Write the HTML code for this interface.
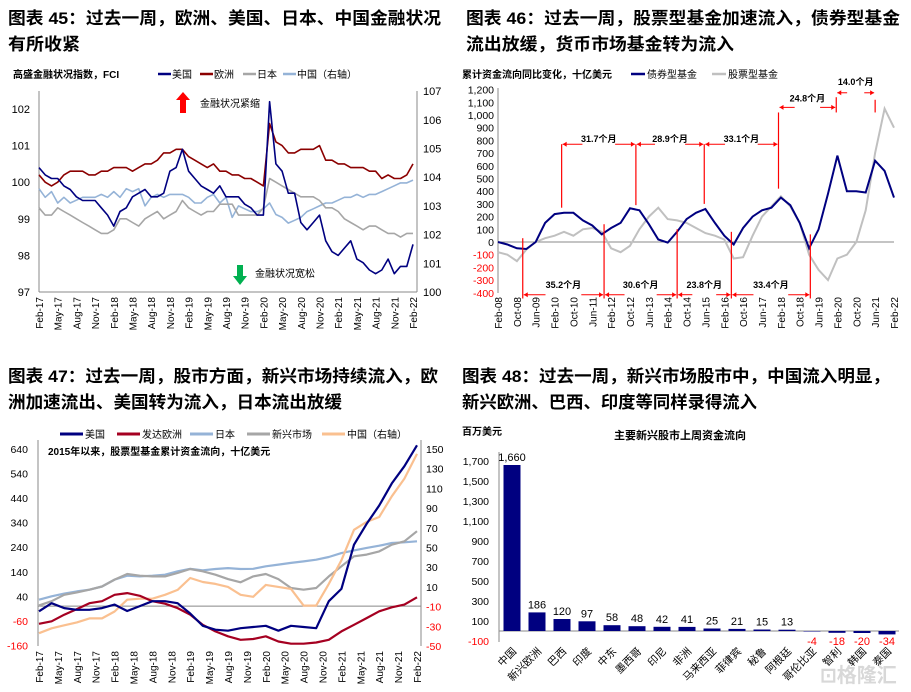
<!DOCTYPE html>
<html><head><meta charset="utf-8">
<style>
html,body{margin:0;padding:0;background:#fff;}
svg{display:block;font-family:"Liberation Sans","Noto Sans CJK SC",sans-serif;}
.t{font-weight:bold;font-size:17px;fill:#000;}
</style></head>
<body>
<svg id="chart" width="911" height="692" viewBox="0 0 911 692" xmlns="http://www.w3.org/2000/svg">
<text class="t" x="8" y="24" textLength="433" lengthAdjust="spacingAndGlyphs">图表 45：过去一周，欧洲、美国、日本、中国金融状况</text>
<text class="t" x="8" y="50" textLength="72" lengthAdjust="spacingAndGlyphs">有所收紧</text>
<text class="t" x="466" y="24" textLength="434" lengthAdjust="spacingAndGlyphs">图表 46：过去一周，股票型基金加速流入，债券型基金</text>
<text class="t" x="466" y="50" textLength="268" lengthAdjust="spacingAndGlyphs">流出放缓，货币市场基金转为流入</text>
<text class="t" x="8" y="382" textLength="430" lengthAdjust="spacingAndGlyphs">图表 47：过去一周，股市方面，新兴市场持续流入，欧</text>
<text class="t" x="8" y="408" textLength="334" lengthAdjust="spacingAndGlyphs">洲加速流出、美国转为流入，日本流出放缓</text>
<text class="t" x="462" y="382" textLength="428" lengthAdjust="spacingAndGlyphs">图表 48：过去一周，新兴市场股市中，中国流入明显，</text>
<text class="t" x="462" y="408" textLength="295" lengthAdjust="spacingAndGlyphs">新兴欧洲、巴西、印度等同样录得流入</text>
<text x="820" y="682" font-size="20" font-weight="bold" fill="#d8d8d8">⊡格隆汇</text>
</svg>
<script>
// ===== Chart 45 data (monthly Feb-17..Feb-22) =====
const c1Ticks = ["Feb-17","May-17","Aug-17","Nov-17","Feb-18","May-18","Aug-18","Nov-18","Feb-19","May-19","Aug-19","Nov-19","Feb-20","May-20","Aug-20","Nov-20","Feb-21","May-21","Aug-21","Nov-21","Feb-22"];
const c1LeftTicks = [97,98,99,100,101,102];
const c1RightTicks = [100,101,102,103,104,105,106,107];
const c1US = [100.4,100.2,100.1,100.1,99.9,99.8,99.6,99.5,99.5,99.5,99.3, 99.1,98.8,99.2,99.3,99.6,99.7,99.8,99.6,99.6,99.7,100.3,100.4, 100.9,100.3,100.1,99.9,99.8,99.7,99.9,99.6,99.6,99.6,99.4,99.3, 99.1,99.1,102.2,100.5,100.3,99.7,99.7,98.9,98.7,98.9,99.1,98.4, 98.1,98.0,98.2,98.4,97.9,97.8,97.6,97.5,97.6,97.9,97.5,97.7, 97.7,98.3];
const c1EU = [100.2,100.0,99.9,100.0,100.2,100.3,100.3,100.3,100.2,100.2,100.3, 100.3,100.4,100.4,100.4,100.3,100.4,100.5,100.5,100.6,100.8,100.8,100.9, 100.9,100.7,100.6,100.5,100.4,100.5,100.3,100.3,100.2,100.2,100.1,100.1, 100.0,99.9,101.6,101.1,101.0,100.8,100.8,100.9,100.9,100.9,101.0,100.6, 100.6,100.5,100.5,100.4,100.4,100.4,100.3,100.3,100.1,100.2,100.1,100.1, 100.2,100.5];
const c1JP = [99.3,99.1,99.1,99.3,99.2,99.1,99.0,98.9,98.8,98.7,98.6, 98.6,98.7,99.0,99.0,98.9,98.8,99.0,99.1,99.2,99.0,99.1,99.2, 99.5,99.3,99.2,99.1,99.2,99.2,99.4,99.4,99.4,99.1,99.1,99.1, 99.1,99.3,100.1,100.0,99.9,99.8,99.7,99.6,99.6,99.6,99.5,99.3, 99.3,99.2,99.0,98.9,98.8,98.7,98.8,98.8,98.7,98.6,98.6,98.5, 98.6,98.6];
const c1CN = [103.6,103.3,103.5,103.1,103.3,103.1,103.2,103.3,103.3,103.3,103.4, 103.3,103.5,103.3,103.6,103.5,103.6,103.0,103.3,103.4,103.3,103.4,103.4, 103.4,103.3,103.1,103.1,103.3,103.4,103.1,103.3,102.6,103.0,102.9,102.8, 102.8,102.9,103.1,102.7,102.6,102.4,102.5,102.6,102.8,102.9,103.0,103.1, 103.1,103.2,103.3,103.3,103.4,103.3,103.4,103.4,103.5,103.6,103.7,103.8, 103.8,103.9];

// ===== Chart 46 data (every 4 months, Feb-08..Feb-22) =====
const c2Ticks = ["Feb-08","Oct-08","Jun-09","Feb-10","Oct-10","Jun-11","Feb-12","Oct-12","Jun-13","Feb-14","Oct-14","Jun-15","Feb-16","Oct-16","Jun-17","Feb-18","Oct-18","Jun-19","Feb-20","Oct-20","Jun-21","Feb-22"];
const c2YTicks = [-400,-300,-200,-100,0,100,200,300,400,500,600,700,800,900,1000,1100,1200];
const c2Bond = [0,-20,-50,-55,0,150,220,230,230,170,130,60,110,150,265,250,140,20,-5,80,180,230,260,150,50,-20,110,200,250,270,350,290,150,-50,100,380,680,400,400,390,640,560,350];
const c2Equity = [-80,-100,-150,-60,0,30,50,80,50,100,110,80,-50,-80,-30,100,200,270,180,170,150,110,70,50,20,-130,-120,50,200,280,360,280,150,-100,-220,-300,-130,-100,0,250,700,1050,900];
const c2PeakMonths = [27,58.5,87.5,119];
const c2PeakVals = [270,290,300,420];
const c2TopLabels = ["31.7个月","28.9个月","33.1个月"];
const c2TroughMonths = [10.5,45,76,99,132.5];
const c2TroughVals = [30,140,100,80,60];
const c2BottomLabels = ["35.2个月","30.6个月","23.8个月","33.4个月"];
const c2LateMonths = [119,143.5,160];
const c2LateLabels = ["24.8个月","14.0个月"];

// ===== Chart 47 data (every 2 months, Feb-17..Feb-22) =====
const c3Ticks = c1Ticks;
const c3LeftTicks = [-160,-60,40,140,240,340,440,540,640];
const c3RightTicks = [-50,-30,-10,10,30,50,70,90,110,130,150];
const c3US = [-21,12,-8,-15,-15,-8,6,-20,0,20,20,12,-30,-80,-96,-100,-90,-85,-80,-100,-80,-85,-90,20,70,250,335,410,500,570,655];
const c3EU = [-72,-62,-35,-12,12,20,46,53,42,20,10,-8,-35,-76,-103,-123,-137,-134,-123,-144,-153,-153,-148,-137,-103,-76,-49,-21,-5,6,36];
const c3JP = [26,40,51,60,67,80,108,124,121,124,128,142,152,146,151,155,151,152,162,169,176,182,189,200,216,227,237,246,257,260,264];
const c3EM = [3,20,46,56,67,80,108,131,124,121,121,135,151,142,128,110,97,121,131,110,74,67,74,121,162,203,210,223,250,264,305];
const c3CN = [-37,-32,-29,-26,-22,-22,-15,-3,-2,-2,2,7,19,15,13,10,2,0,12,10,8,-9,-9,13,37,68,76,81,102,120,145];

// ===== Chart 48 data =====
const c4Cats = ["中国","新兴欧洲","巴西","印度","中东","墨西哥","印尼","非洲","马来西亚","菲律宾","秘鲁","阿根廷","哥伦比亚","智利","韩国","泰国"];
const c4Vals = [1660,186,120,97,58,48,42,41,25,21,15,13,-4,-18,-20,-34];
const c4YTicks = [-100,100,300,500,700,900,1100,1300,1500,1700];

const svg = document.getElementById('chart');
const NS = 'http://www.w3.org/2000/svg';
function mk(tag, attrs, txt){
  const e = document.createElementNS(NS, tag);
  for (const k in attrs) e.setAttribute(k, attrs[k]);
  if (txt !== undefined) e.textContent = txt;
  svg.appendChild(e);
  return e;
}
function fmt(v){ return v.toLocaleString('en-US'); }
function pathOf(vals, xf, yf){ return vals.map((v,i)=>(i?'L':'M')+xf(i).toFixed(1)+','+yf(v).toFixed(1)).join(''); }

// ---------- Chart 45 ----------
const x1 = i => 39 + i*(374/60);
const yL1 = v => 292 - (v-97)*36.6;
const yR1 = v => 292 - (v-100)*28.7;
let e;
e = mk('line',{x1:39,y1:91,x2:39,y2:292,stroke:'#888'});


e = mk('line',{x1:417,y1:91,x2:417,y2:292,stroke:'#888'});


e = mk('line',{x1:39,y1:292,x2:417,y2:292,stroke:'#888'});


c1LeftTicks.forEach(v=>{
  e = mk('text',{x:30,y:yL1(v)+4,'font-size':11,'text-anchor':'end'},String(v));
  
  
});
c1RightTicks.forEach(v=>{
  e = mk('text',{x:423,y:yR1(v)+4,'font-size':11},String(v));
  
  
});
c1Ticks.forEach((t,q)=>{
  const xx = x1(q*3);
  e = mk('text',{x:xx+4,y:297,'font-size':10,'text-anchor':'end',transform:`rotate(-90 ${xx+4} 297)`},t);
  
  
});
[[c1CN,'#95b3d7',yR1,'c45-line-china'],[c1JP,'#a6a6a6',yL1,'c45-line-japan'],[c1EU,'#8b0000',yL1,'c45-line-europe'],[c1US,'#000080',yL1,'c45-line-us']].forEach(s=>{
  e = mk('path',{d:pathOf(s[0],x1,s[2]),fill:'none',stroke:s[1],'stroke-width':1.6,'stroke-linejoin':'round'});
  
  
});
e = mk('text',{x:13,y:78,'font-size':10,'font-weight':'bold'},'高盛金融状况指数，FCI');


[['美国','#000080',158],['欧洲','#8b0000',200],['日本','#a6a6a6',243],['中国（右轴）','#95b3d7',283]].forEach(l=>{
  e = mk('line',{x1:l[2],y1:74,x2:l[2]+13,y2:74,stroke:l[1],'stroke-width':2.5});
  
  
  e = mk('text',{x:l[2]+14,y:78,'font-size':10},l[0]);
  
  
});
e = mk('polygon',{points:'183,92 190,100 186,100 186,113 180,113 180,100 176,100',fill:'#ff0000'});


e = mk('text',{x:200,y:107,'font-size':10},'金融状况紧缩');


e = mk('polygon',{points:'237,265 243,265 243,276 247,276 240,285 233,276 237,276',fill:'#00b050'});


e = mk('text',{x:255,y:277,'font-size':10},'金融状况宽松');



// ---------- Chart 46 ----------
const x2m = m => 498 + m*(396/168);
const x2 = i => x2m(i*4);
const y2 = v => 242 - v*0.127;
e = mk('line',{x1:498,y1:88,x2:498,y2:293,stroke:'#888'});


e = mk('line',{x1:498,y1:y2(0),x2:894,y2:y2(0),stroke:'#888'});


c2YTicks.forEach(v=>{
  e = mk('text',{x:494,y:y2(v)+4,'font-size':10.5,'text-anchor':'end',fill:v<0?'#ff0000':'#000'},fmt(v));
  
  
});
c2Ticks.forEach((t,k)=>{
  const xx = x2m(k*8);
  e = mk('text',{x:xx+4,y:297,'font-size':10,'text-anchor':'end',transform:`rotate(-90 ${xx+4} 297)`},t);
  
  
});
e = mk('path',{d:pathOf(c2Equity,x2,y2),fill:'none',stroke:'#c0c0c0','stroke-width':2});


e = mk('path',{d:pathOf(c2Bond,x2,y2),fill:'none',stroke:'#000080','stroke-width':2});


function vline(m,v1,v2,name){
  e = mk('line',{x1:x2m(m),y1:y2(v1),x2:x2m(m),y2:y2(v2),stroke:'#ff0000','stroke-width':1.2});
  
  
}
function harrow(m1,m2,v,label,lv,name){
  const a=x2m(m1), b=x2m(m2), yy=y2(v), seg=(b-a)*0.28;
  e = mk('line',{x1:a+1,y1:yy,x2:a+seg,y2:yy,stroke:'#ff0000','stroke-width':1});
  
  
  e = mk('line',{x1:b-seg,y1:yy,x2:b-1,y2:yy,stroke:'#ff0000','stroke-width':1});
  
  
  e = mk('polygon',{points:`${a+1},${yy} ${a+5},${yy-2.5} ${a+5},${yy+2.5}`,fill:'#ff0000'});
  
  
  e = mk('polygon',{points:`${b-1},${yy} ${b-5},${yy-2.5} ${b-5},${yy+2.5}`,fill:'#ff0000'});
  
  
  e = mk('text',{x:(a+b)/2,y:y2(lv)+3,'font-size':9,'font-weight':'bold','text-anchor':'middle'},label);
  
  
}
c2PeakMonths.forEach((m,i)=>vline(m,i<3?770:1020,c2PeakVals[i],'c46-peak-marker'));
vline(143.5,1140,1020,'c46-peak-marker');
vline(160,1120,1020,'c46-peak-marker');
c2TroughMonths.forEach((m,i)=>vline(m,c2TroughVals[i],-445,'c46-trough-marker'));
c2TopLabels.forEach((l,i)=>harrow(c2PeakMonths[i],c2PeakMonths[i+1],770,l,812,'c46-cycle-arrow-top'));
c2BottomLabels.forEach((l,i)=>harrow(c2TroughMonths[i],c2TroughMonths[i+1],-415,l,-340,'c46-cycle-arrow-bottom'));
harrow(c2LateMonths[0],c2LateMonths[1],1060,c2LateLabels[0],1130,'c46-cycle-arrow-late');
harrow(c2LateMonths[1],c2LateMonths[2],1175,c2LateLabels[1],1260,'c46-cycle-arrow-late');
e = mk('text',{x:462,y:78,'font-size':10,'font-weight':'bold'},'累计资金流向同比变化，十亿美元');


[['债券型基金','#000080',631],['股票型基金','#c0c0c0',712]].forEach(l=>{
  e = mk('line',{x1:l[2],y1:74,x2:l[2]+14,y2:74,stroke:l[1],'stroke-width':2.5});
  
  
  e = mk('text',{x:l[2]+16,y:78,'font-size':10},l[0]);
  
  
});

// ---------- Chart 47 ----------
const x3 = k => 39 + k*(378/30);
const yL3 = v => 449 + (640-v)*0.2455;
const yR3 = v => 449 + (150-v)*0.985;
e = mk('line',{x1:38,y1:440,x2:38,y2:646,stroke:'#888'});


e = mk('line',{x1:421,y1:440,x2:421,y2:646,stroke:'#888'});


e = mk('line',{x1:38,y1:yL3(0),x2:421,y2:yL3(0),stroke:'#888'});


c3LeftTicks.forEach(v=>{
  e = mk('text',{x:28,y:yL3(v)+4,'font-size':10.5,'text-anchor':'end',fill:v<0?'#ff0000':'#000'},String(v));
  
  
});
c3RightTicks.forEach(v=>{
  e = mk('text',{x:426,y:yR3(v)+4,'font-size':10.5,fill:v<0?'#ff0000':'#000'},String(v));
  
  
});
c3Ticks.forEach((t,q)=>{
  const xx = x3(q*1.5);
  e = mk('text',{x:xx+4,y:651,'font-size':10,'text-anchor':'end',transform:`rotate(-90 ${xx+4} 651)`},t);
  
  
});
[[c3JP,'#95b3d7',yL3,'c47-line-japan'],[c3EM,'#a6a6a6',yL3,'c47-line-emerging'],[c3CN,'#fac090',yR3,'c47-line-china'],[c3EU,'#a50021',yL3,'c47-line-dev-europe'],[c3US,'#000080',yL3,'c47-line-us']].forEach(s=>{
  e = mk('path',{d:pathOf(s[0],x3,s[2]),fill:'none',stroke:s[1],'stroke-width':2.2,'stroke-linejoin':'round'});
  
  
});
[['美国','#000080',60],['发达欧洲','#a50021',117],['日本','#95b3d7',190],['新兴市场','#a6a6a6',247],['中国（右轴）','#fac090',322]].forEach(l=>{
  e = mk('line',{x1:l[2],y1:434,x2:l[2]+23,y2:434,stroke:l[1],'stroke-width':3});
  
  
  e = mk('text',{x:l[2]+25,y:438,'font-size':10},l[0]);
  
  
});
e = mk('text',{x:48,y:455,'font-size':10,'font-weight':'bold'},'2015年以来，股票型基金累计资金流向，十亿美元');



// ---------- Chart 48 ----------
const xb = i => 512 + i*25;
const yb = v => 631 - v*0.1;
e = mk('line',{x1:499,y1:452,x2:499,y2:642,stroke:'#888'});


e = mk('line',{x1:499,y1:yb(0),x2:899,y2:yb(0),stroke:'#888'});


c4YTicks.forEach(v=>{
  e = mk('text',{x:489,y:yb(v)+4,'font-size':10.5,'text-anchor':'end',fill:v<0?'#ff0000':'#000'},fmt(v));
  
  
});
c4Vals.forEach((v,i)=>{
  const top = Math.min(yb(v),yb(0)), h = Math.abs(yb(v)-yb(0));
  e = mk('rect',{x:xb(i)-8.5,y:top,width:17,height:Math.max(h,0.5),fill:'#000080'});
  
  
  const ly = v>=0 ? yb(v)-4 : 645;
  e = mk('text',{x:xb(i),y:ly,'font-size':11,'text-anchor':'middle',fill:v<0?'#ff0000':'#000'},fmt(v));
  
  
  e = mk('text',{x:xb(i)+5,y:652,'font-size':10.5,'text-anchor':'end',transform:`rotate(-45 ${xb(i)+5} 652)`},c4Cats[i]);
  
  
});
e = mk('text',{x:462,y:435,'font-size':10,'font-weight':'bold'},'百万美元');


e = mk('text',{x:680,y:439,'font-size':11,'font-weight':'bold','text-anchor':'middle'},'主要新兴股市上周资金流向');


</script>
</body></html>
